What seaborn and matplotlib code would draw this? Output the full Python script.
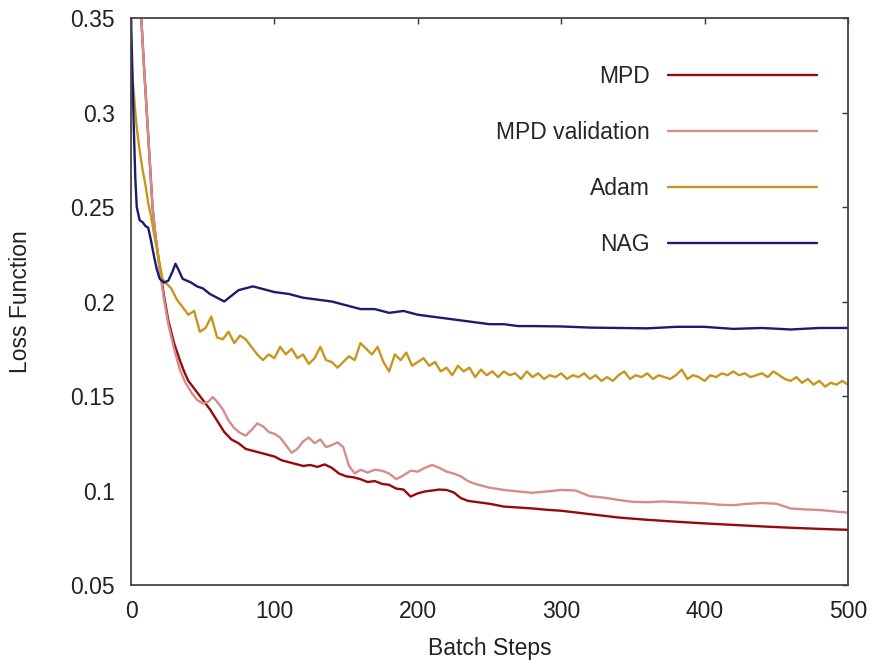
import numpy as np
import pandas as pd
import matplotlib
matplotlib.use('Agg')
import matplotlib.pyplot as plt
import seaborn as sns

# ── Data ───────────────────────────────────────────────────────────
mpd_steps = [7, 9, 11, 13, 15, 17, 20, 23, 26, 30, 34, 37, 40, 45, 50, 55, 60, 65, 70, 75,
             80, 85, 90, 95, 100, 105, 110, 115, 120, 125, 130, 135, 140, 145, 150, 155, 160, 165, 170, 175,
             180, 185, 190, 195, 200, 205, 210, 215, 220, 225, 230, 235, 240, 250, 260, 270, 280, 290, 300, 320,
             340, 360, 380, 400, 420, 440, 460, 480, 500]
mpd_loss = [0.352, 0.325, 0.300, 0.275, 0.250, 0.235, 0.218, 0.203, 0.190, 0.178, 0.169, 0.163, 0.158, 0.153, 0.148, 0.143, 0.137, 0.131, 0.127, 0.125,
            0.122, 0.121, 0.120, 0.119, 0.118, 0.116, 0.115, 0.114, 0.113, 0.1135, 0.1125, 0.1138, 0.112, 0.109, 0.1075, 0.107, 0.106, 0.1045, 0.105, 0.1035,
            0.103, 0.101, 0.1005, 0.0968, 0.0985, 0.0995, 0.100, 0.1005, 0.1003, 0.099, 0.096, 0.0945, 0.094, 0.093, 0.0915, 0.091, 0.0905, 0.0898, 0.0893, 0.0875,
            0.0857, 0.0845, 0.0835, 0.0826, 0.0818, 0.081, 0.0803, 0.0797, 0.0792]

val_steps = [7, 9, 11, 13, 15, 17, 20, 23, 26, 30, 34, 38, 42, 46, 50, 54, 57, 60, 64, 68,
             72, 76, 80, 84, 88, 92, 96, 100, 104, 108, 112, 116, 120, 124, 128, 132, 136, 140, 144, 148,
             152, 156, 160, 165, 170, 175, 180, 185, 190, 195, 200, 205, 210, 215, 220, 225, 230, 235, 240, 250,
             260, 270, 280, 290, 300, 310, 320, 330, 340, 350, 360, 370, 380, 390, 400, 410, 420, 430, 440, 450,
             460, 470, 480, 490, 500]
val_loss = [0.352, 0.325, 0.300, 0.275, 0.250, 0.235, 0.217, 0.201, 0.188, 0.175, 0.164, 0.157, 0.152, 0.148, 0.146, 0.147, 0.1495, 0.147, 0.143, 0.137,
            0.133, 0.1305, 0.129, 0.132, 0.1355, 0.134, 0.131, 0.130, 0.128, 0.124, 0.120, 0.122, 0.126, 0.128, 0.125, 0.127, 0.123, 0.124, 0.1255, 0.123,
            0.113, 0.109, 0.111, 0.1095, 0.111, 0.1105, 0.109, 0.106, 0.108, 0.1105, 0.110, 0.112, 0.1135, 0.112, 0.110, 0.109, 0.1075, 0.105, 0.1035, 0.1015,
            0.1003, 0.0995, 0.0988, 0.0995, 0.1003, 0.100, 0.097, 0.0962, 0.095, 0.094, 0.0938, 0.0942, 0.0939, 0.0935, 0.0932, 0.0925, 0.0922, 0.093, 0.0934, 0.093,
            0.0905, 0.090, 0.0897, 0.089, 0.0883]

adam_steps = [0, 1, 2, 3, 4, 6, 8, 10, 12, 14, 16, 18, 20, 22, 24] + list(range(28, 501, 4))
adam_loss = [0.330, 0.318, 0.310, 0.300, 0.292, 0.280, 0.270, 0.262, 0.252, 0.245, 0.236, 0.228, 0.220, 0.212, 0.210,
             0.207, 0.201, 0.197, 0.193, 0.195, 0.184, 0.186, 0.192, 0.181, 0.180,
             0.184, 0.178, 0.182, 0.180, 0.176, 0.172, 0.169, 0.172, 0.170, 0.176,
             0.172, 0.175, 0.170, 0.172, 0.167, 0.170, 0.176, 0.169, 0.168, 0.165,
             0.168, 0.171, 0.169, 0.178, 0.175, 0.172, 0.176, 0.168, 0.163, 0.172,
             0.169, 0.173, 0.166, 0.168, 0.170, 0.166, 0.168, 0.163, 0.165, 0.161,
             0.166, 0.163, 0.165, 0.160, 0.164, 0.161, 0.163, 0.160, 0.163, 0.161,
             0.162, 0.159, 0.163, 0.160, 0.162, 0.159, 0.161, 0.160, 0.162, 0.159,
             0.161, 0.160, 0.162, 0.159, 0.161, 0.158, 0.160, 0.158, 0.161, 0.163,
             0.159, 0.161, 0.160, 0.162, 0.159, 0.161, 0.160, 0.159, 0.161, 0.164,
             0.159, 0.161, 0.160, 0.158, 0.161, 0.160, 0.162, 0.161, 0.163, 0.161,
             0.162, 0.160, 0.161, 0.162, 0.160, 0.163, 0.161, 0.159, 0.158, 0.160,
             0.157, 0.159, 0.156, 0.158, 0.155, 0.157, 0.156, 0.158, 0.156]

nag_steps = [0, 1, 2, 3, 4, 6, 8, 10, 12, 14, 16, 18, 20, 23, 26, 29, 31, 33, 36, 39,
             42, 46, 50, 55, 60, 65, 70, 75, 80, 85, 90, 95, 100, 110, 120, 130, 140, 150, 160, 170,
             180, 190, 200, 210, 220, 230, 240, 250, 260, 270, 280, 300, 320, 340, 360, 380, 400, 420, 440, 460,
             480, 500]
nag_loss = [0.350, 0.320, 0.290, 0.265, 0.250, 0.243, 0.242, 0.240, 0.239, 0.232, 0.224, 0.217, 0.212, 0.210, 0.211, 0.216, 0.220, 0.217, 0.212, 0.211,
            0.210, 0.208, 0.207, 0.204, 0.202, 0.200, 0.203, 0.206, 0.207, 0.208, 0.207, 0.206, 0.205, 0.204, 0.202, 0.201, 0.200, 0.198, 0.196, 0.196,
            0.194, 0.195, 0.193, 0.192, 0.191, 0.190, 0.189, 0.188, 0.188, 0.187, 0.187, 0.1868, 0.1862, 0.186, 0.1858, 0.1866, 0.1866, 0.1855, 0.186, 0.1852,
            0.186, 0.186]

series_names = ['MPD', 'MPD validation', 'Adam', 'NAG']
series_colors = ['#960a0a', '#d68c8c', '#c8961e', '#1c1c6e']

x_ticks = [0, 100, 200, 300, 400, 500]
y_ticks = [0.05, 0.1, 0.15, 0.2, 0.25, 0.3, 0.35]
y_tick_labels = ['0.05', '0.1', '0.15', '0.2', '0.25', '0.3', '0.35']

# ── Long table for seaborn ─────────────────────────────────────────
frames = []
for name, steps, loss in zip(series_names,
                             [mpd_steps, val_steps, adam_steps, nag_steps],
                             [mpd_loss, val_loss, adam_loss, nag_loss]):
    frames.append(pd.DataFrame({'step': steps, 'loss': loss, 'series': name}))
df = pd.concat(frames, ignore_index=True)

# ── Style ──────────────────────────────────────────────────────────
sns.set_theme(style='white')
plt.rcParams['font.family'] = ['Liberation Sans', 'DejaVu Sans']
FS = 16.5
INK = '#222222'

fig = plt.figure(figsize=(8.7, 6.62), dpi=100)
ax = fig.add_axes([0.1506, 0.1163, 0.8241, 0.8565])

sns.lineplot(data=df, x='step', y='loss', hue='series', hue_order=series_names,
             palette=dict(zip(series_names, series_colors)), estimator=None,
             sort=False, linewidth=1.7, ax=ax)

ax.set_xlim(0, 500)
ax.set_ylim(0.05, 0.35)
ax.set_xticks(x_ticks)
ax.set_yticks(y_ticks)
ax.set_yticklabels(y_tick_labels)
ax.tick_params(direction='in', length=4.5, width=1, colors='#333333',
               labelsize=FS, top=True, right=True, labelcolor=INK)
ax.tick_params(axis='y', pad=11.5)
ax.tick_params(axis='x', pad=11)
for sp in ax.spines.values():
    sp.set_visible(True)
    sp.set_color('#444444')
    sp.set_linewidth(1.3)

ax.set_xlabel('Batch Steps', fontsize=FS, color=INK, labelpad=10)
ax.set_ylabel('Loss Function', fontsize=FS, color=INK, labelpad=28)

ax.legend(loc='upper right', bbox_to_anchor=(0.97, 0.934), markerfirst=False,
          frameon=False, fontsize=FS, handlelength=6.5, handletextpad=0.8,
          labelspacing=1.44, borderaxespad=0)

fig.savefig('out.png', dpi=100)
